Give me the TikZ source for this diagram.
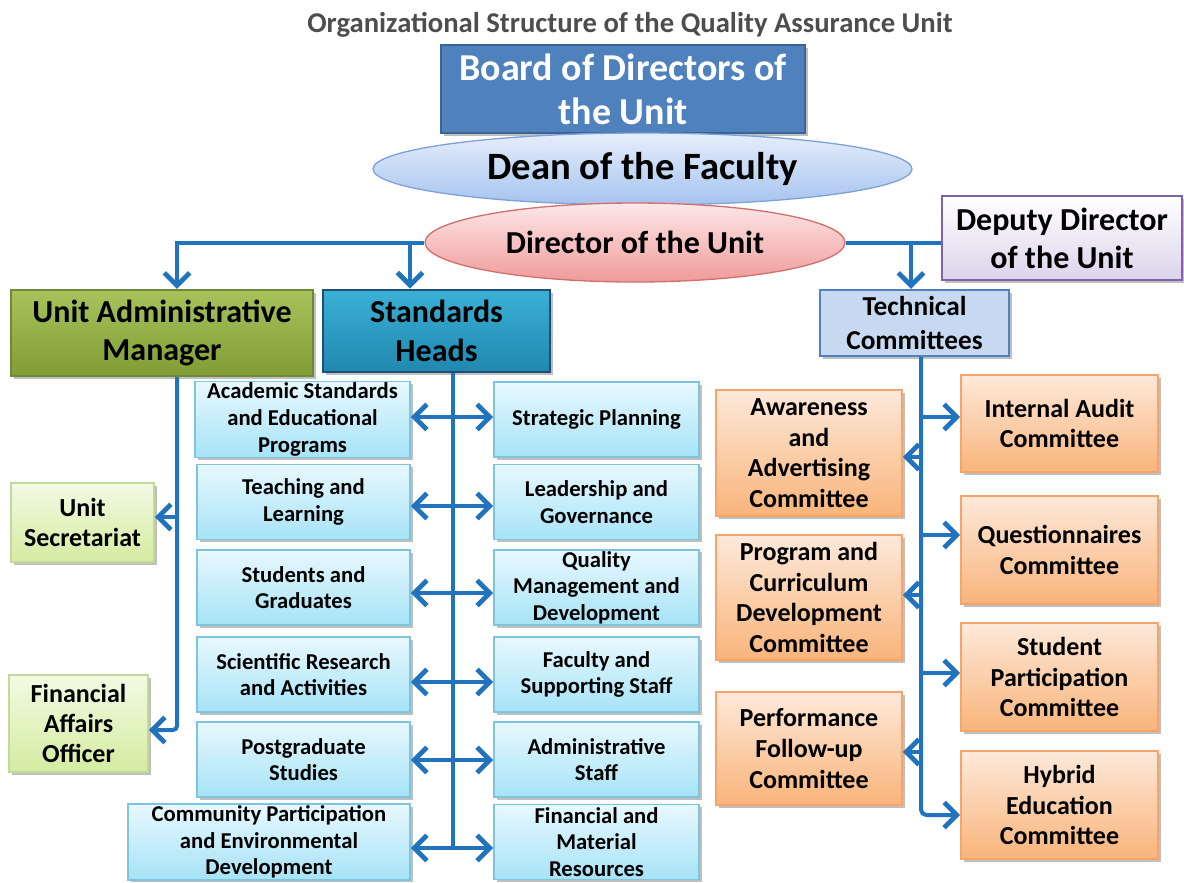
\documentclass[tikz,border=0pt]{standalone}
\usepackage{fontspec}
\setmainfont{Carlito}
\usetikzlibrary{arrows.meta,shadows,shapes.geometric}
\definecolor{ln}{HTML}{2173BE}
\definecolor{ttl}{HTML}{4D4D4D}
\definecolor{bdF}{HTML}{4F81BD}\definecolor{bdD}{HTML}{3A6496}
\definecolor{dnT}{HTML}{E6EEFB}\definecolor{dnB}{HTML}{A6C3EE}\definecolor{dnD}{HTML}{7FA3D9}
\definecolor{drT}{HTML}{FDE8E8}\definecolor{drB}{HTML}{F09A9A}\definecolor{drD}{HTML}{D27070}
\definecolor{dpT}{HTML}{FFFFFF}\definecolor{dpB}{HTML}{DCD3EB}\definecolor{dpD}{HTML}{8064A2}
\definecolor{gmT}{HTML}{A6C35C}\definecolor{gmB}{HTML}{7F9C35}\definecolor{gmD}{HTML}{6E8A37}
\definecolor{shT}{HTML}{3BB0D6}\definecolor{shB}{HTML}{2088AE}\definecolor{shD}{HTML}{1F4E79}
\definecolor{tcF}{HTML}{C6D9F1}\definecolor{tcD}{HTML}{4F81BD}
\definecolor{lgT}{HTML}{F2FAE4}\definecolor{lgB}{HTML}{D4ECA0}\definecolor{lgD}{HTML}{C2D99A}
\definecolor{cyT}{HTML}{E8F8FE}\definecolor{cyB}{HTML}{A6E3F7}\definecolor{cyD}{HTML}{7DC4DD}
\definecolor{orT}{HTML}{FDE9DA}\definecolor{orB}{HTML}{F9B47A}\definecolor{orD}{HTML}{F6A46A}
\def\upx{0.75pt}
\begin{document}
\begin{tikzpicture}[x=0.75pt,y=-0.75pt,
  shad/.style={drop shadow={shadow xshift=2pt,shadow yshift=-2pt,opacity=0.25,fill=black}},
  box/.style={rectangle,draw,align=center,inner sep=1pt,text=black},
  cyanbox/.style={box,shad,top color=cyT,bottom color=cyB,draw=cyD,line width=1.2pt,
     minimum height=75*\upx,font=\bfseries\fontsize{17}{20}\selectfont},
  orbox/.style={box,shad,top color=orT,bottom color=orB,draw=orD,line width=1.2pt,
     font=\bfseries\fontsize{19.5}{23}\selectfont},
  lgbox/.style={box,shad,top color=lgT,bottom color=lgB,draw=lgD,line width=1.2pt,
     font=\bfseries\fontsize{19.5}{22.5}\selectfont},
  lnst/.style={draw=ln,line width=3pt},
  tip/.tip={Straight Barb[length=9.5pt,width=19pt,line width=3.6pt]},
  arr/.style={lnst,-tip},
  dbl/.style={lnst,tip-tip}
]
\useasboundingbox (0,0) rectangle (1184,882);

\node[font=\bfseries\fontsize{21.5}{25}\selectfont,text=ttl] (title) at (630,25)
  {Organizational Structure of the Quality Assurance Unit};

% top
\node[box,shad,fill=bdF,draw=bdD,line width=1.5pt,text=white,
  minimum width=364*\upx,minimum height=88*\upx,
  font=\bfseries\fontsize{28.5}{33}\selectfont] (board) at (623,89)
  {Board of Directors of\\the Unit};
\node[ellipse,draw=dnD,line width=1pt,top color=dnT,bottom color=dnB,inner sep=0pt,
  minimum width=539*\upx,minimum height=72*\upx,
  font=\bfseries\fontsize{29}{33}\selectfont] (dean) at (642.5,169) {Dean of the Faculty};
\node[ellipse,draw=drD,line width=1pt,top color=drT,bottom color=drB,inner sep=0pt,
  minimum width=420*\upx,minimum height=79*\upx,
  font=\bfseries\fontsize{24}{28}\selectfont] (dir) at (635,242.5) {Director of the Unit};
\node[box,shad,top color=dpT,bottom color=dpB,draw=dpD,line width=2.2pt,
  minimum width=240*\upx,minimum height=84*\upx,
  font=\bfseries\fontsize{24}{28.5}\selectfont] (dep) at (1062,238)
  {Deputy Director\\of the Unit};

% second level
\node[box,shad,top color=gmT,bottom color=gmB,draw=gmD,line width=1.8pt,
  minimum width=302*\upx,minimum height=86*\upx,
  font=\bfseries\fontsize{24}{29}\selectfont] (uam) at (162,333)
  {Unit Administrative\\Manager};
\node[box,shad,top color=shT,bottom color=shB,draw=shD,line width=2.2pt,
  minimum width=227*\upx,minimum height=82*\upx,
  font=\bfseries\fontsize{24}{29}\selectfont] (sh) at (436.5,331)
  {Standards\\Heads};
\node[box,shad,fill=tcF,draw=tcD,line width=1.8pt,
  minimum width=189*\upx,minimum height=66*\upx,
  font=\bfseries\fontsize{20.5}{25}\selectfont] (tc) at (914.5,323)
  {Technical\\Committees};

% left green
\node[lgbox,minimum width=143*\upx,minimum height=79*\upx] (sec) at (82.5,522.5) {Unit\\Secretariat};
\node[lgbox,minimum width=139*\upx,minimum height=97*\upx] (fin) at (78.5,723.5) {Financial\\Affairs\\Officer};

% cyan left
\node[cyanbox,minimum width=215*\upx] (L1) at (302.5,419.5) {Academic Standards\\and Educational\\Programs};
\node[cyanbox,minimum width=213*\upx] (L2) at (303.5,502) {Teaching and\\Learning};
\node[cyanbox,minimum width=213*\upx] (L3) at (303.5,587.5) {Students and\\Graduates};
\node[cyanbox,minimum width=213*\upx] (L4) at (303.5,674.5) {Scientific Research\\and Activities};
\node[cyanbox,minimum width=213*\upx] (L5) at (303.5,759.5) {Postgraduate\\Studies};
\node[cyanbox,minimum width=282*\upx] (L6) at (269,842) {Community Participation\\and Environmental\\Development};
% cyan right
\node[cyanbox,minimum width=205*\upx] (R1) at (596.5,419.5) {Strategic Planning};
\node[cyanbox,minimum width=205*\upx] (R2) at (596.5,502) {Leadership and\\Governance};
\node[cyanbox,minimum width=205*\upx] (R3) at (596.5,587.5) {Quality\\Management and\\Development};
\node[cyanbox,minimum width=205*\upx] (R4) at (596.5,674.5) {Faculty and\\Supporting Staff};
\node[cyanbox,minimum width=205*\upx] (R5) at (596.5,759.5) {Administrative\\Staff};
\node[cyanbox,minimum width=205*\upx] (R6) at (596.5,842) {Financial and\\Material\\Resources};

% orange
\node[orbox,minimum width=197*\upx,minimum height=97*\upx] (IA) at (1059.5,423.5) {Internal Audit\\Committee};
\node[orbox,minimum width=197*\upx,minimum height=108*\upx] (QC) at (1059.5,550) {Questionnaires\\Committee};
\node[orbox,minimum width=197*\upx,minimum height=108*\upx] (SP) at (1059.5,677) {Student\\Participation\\Committee};
\node[orbox,minimum width=197*\upx,minimum height=108*\upx] (HE) at (1059.5,805) {Hybrid\\Education\\Committee};
\node[orbox,minimum width=186*\upx,minimum height=126*\upx] (AA) at (809,453) {Awareness\\and\\Advertising\\Committee};
\node[orbox,minimum width=186*\upx,minimum height=125*\upx] (PC) at (809,597.5) {Program and\\Curriculum\\Development\\Committee};
\node[orbox,minimum width=186*\upx,minimum height=113*\upx] (PF) at (809,748.5) {Performance\\Follow-up\\Committee};

% connectors top
\coordinate (ux) at (177,0);
\coordinate (bx) at (410,0);
\coordinate (tx) at (911,0);
\draw[arr] (dir.west) -| (ux |- uam.north);
\draw[arr] (bx |- dir.west) -- (bx |- sh.north);
\draw[lnst] (dir.east) -- (dir.east -| dep.west);
\draw[arr] (tx |- dir.east) -- (tx |- tc.north);

% left spine
\coordinate (s1) at (177,517);
\coordinate (f1) at (177,730);
\draw[arr,rounded corners=3pt] (ux |- uam.south) |- (f1 -| fin.east);
\draw[arr] (s1) -- (s1 -| sec.east);

% standards spine
\coordinate (sx) at (453,0);
\coordinate (a1) at (453,417);
\coordinate (a2) at (453,506);
\coordinate (a3) at (453,593);
\coordinate (a4) at (453,682);
\coordinate (a5) at (453,760);
\coordinate (a6) at (453,848);
\draw[lnst] (sx |- sh.south) -- (a6);
\draw[dbl] (a1 -| L1.east) -- (a1 -| R1.west);
\draw[dbl] (a2 -| L2.east) -- (a2 -| R2.west);
\draw[dbl] (a3 -| L3.east) -- (a3 -| R3.west);
\draw[dbl] (a4 -| L4.east) -- (a4 -| R4.west);
\draw[dbl] (a5 -| L5.east) -- (a5 -| R5.west);
\draw[dbl] (a6 -| L6.east) -- (a6 -| R6.west);

% technical spine
\coordinate (cx) at (921,0);
\coordinate (t1) at (921,417);
\coordinate (t2) at (921,457);
\coordinate (t3) at (921,535);
\coordinate (t4) at (921,595);
\coordinate (t5) at (921,673);
\coordinate (t6) at (921,752);
\coordinate (t7) at (921,815);
\draw[arr,rounded corners=4pt] (cx |- tc.south) |- (t7 -| HE.west);
\draw[arr] (t1) -- (t1 -| IA.west);
\draw[arr] (t2) -- (t2 -| AA.east);
\draw[arr] (t3) -- (t3 -| QC.west);
\draw[arr] (t4) -- (t4 -| PC.east);
\draw[arr] (t5) -- (t5 -| SP.west);
\draw[arr] (t6) -- (t6 -| PF.east);
\end{tikzpicture}
\end{document}
